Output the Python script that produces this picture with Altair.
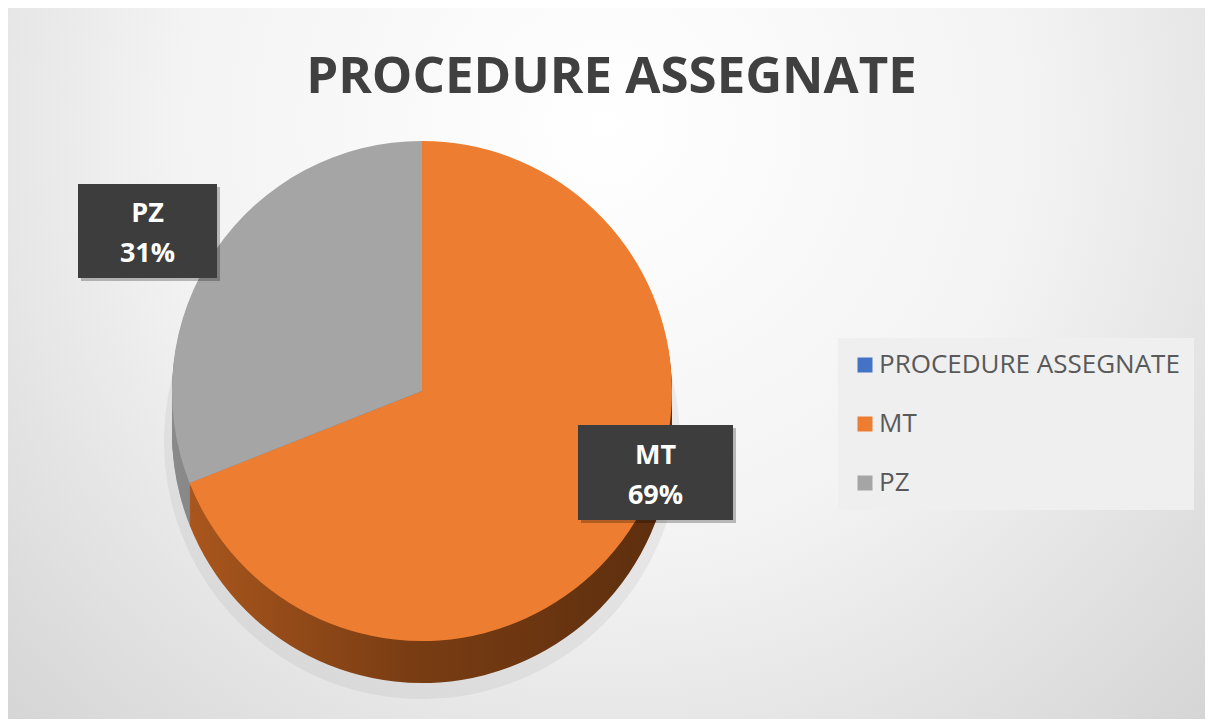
import altair as alt
import pandas as pd

# ---- data ----
TITLE = "PROCEDURE ASSEGNATE"
CATEGORIES = ["PROCEDURE ASSEGNATE", "MT", "PZ"]
VALUES = [0, 69, 31]
COLORS = ["#4472C4", "#ED7D31", "#A5A5A5"]

# ---- layout ----
W, H = 1197, 711
CX, CY, R = 414, 383, 250
DEPTH = 42
LABEL_LAYOUT = [  # cat, center x, first baseline y, box x0, x1, y0, y1
    ("PZ", 139.5, 214, 70, 209, 176, 270),
    ("MT", 647.5, 456, 570, 725, 417, 512),
]

df = pd.DataFrame({"cat": CATEGORIES, "value": VALUES, "idx": list(range(len(CATEGORIES)))})
total = sum(VALUES)

base = (
    alt.Chart(df)
    .transform_window(cum="sum(value)", sort=[alt.SortField("idx", order="ascending")])
    .transform_calculate(
        start="datum.cum - datum.value",
        pct=f"datum.value / {total}",
    )
    .transform_calculate(label="datum.cat + '\\n' + format(datum.pct, '.0%')")
)

theta_scale = alt.Scale(domain=[0, total], range=[0, 6.283185307179586])

bg = (
    alt.Chart(pd.DataFrame({"a": [0]}))
    .mark_rect(
        fill=alt.Gradient(
            gradient="radial",
            stops=[
                alt.GradientStop(color="#ffffff", offset=0),
                alt.GradientStop(color="#f3f3f3", offset=0.45),
                alt.GradientStop(color="#cdcdcd", offset=1),
            ],
            x1=0.5, y1=0.3, x2=0.5, y2=0.3, r1=0, r2=0.8,
        )
    )
    .encode(x=alt.value(0), x2=alt.value(W), y=alt.value(0), y2=alt.value(H))
)

SIDE_FILLS = {
    "MT": alt.Gradient(
        gradient="linear",
        stops=[
            alt.GradientStop(color="#a9561d", offset=0),
            alt.GradientStop(color="#7a3d13", offset=0.45),
            alt.GradientStop(color="#5c2e0e", offset=1),
        ],
        x1=0, y1=0, x2=1, y2=0,
    ),
    "PZ": alt.Gradient(
        gradient="linear",
        stops=[
            alt.GradientStop(color="#8a8a8a", offset=0),
            alt.GradientStop(color="#6e6e6e", offset=1),
        ],
        x1=0, y1=0, x2=1, y2=0,
    ),
}

layers = [bg]

# soft shadow under the pie
layers.append(
    base.mark_arc(radius=R + 8, fill="#000000", opacity=0.05).encode(
        theta=alt.Theta("start:Q", scale=theta_scale),
        theta2="cum:Q",
        x=alt.value(CX),
        y=alt.value(CY + DEPTH + 8),
    )
)

for d in range(DEPTH, 0, -2):
    for cat, fill in SIDE_FILLS.items():
        layers.append(
            base.transform_filter(alt.datum.cat == cat)
            .mark_arc(radius=R, fill=fill)
            .encode(
                theta=alt.Theta("start:Q", scale=theta_scale),
                theta2="cum:Q",
                x=alt.value(CX),
                y=alt.value(CY + d),
            )
        )

top = base.mark_arc(radius=R).encode(
    theta=alt.Theta("start:Q", scale=theta_scale),
    theta2="cum:Q",
    x=alt.value(CX),
    y=alt.value(CY),
    color=alt.Color(
        "cat:N",
        scale=alt.Scale(domain=CATEGORIES, range=COLORS),
        legend=alt.Legend(
            title=None,
            orient="none",
            legendX=830,
            legendY=330,
            symbolType="square",
            symbolSize=225,
            symbolStrokeWidth=0,
            labelFontSize=26,
            labelFont="Open Sans",
            labelColor="#595959",
            rowPadding=33,
            padding=14,
            fillColor="#efefef",
            labelLimit=500,
            labelOffset=1,
        ),
    ),
)
layers.append(top)

for cat, tx, ty, x0, x1, y0, y1 in LABEL_LAYOUT:
    sub = base.transform_filter(alt.datum.cat == cat)
    layers.append(
        sub.mark_rect(fill="#000000", opacity=0.25).encode(
            x=alt.value(x0 + 3), x2=alt.value(x1 + 3), y=alt.value(y0 + 3), y2=alt.value(y1 + 3)
        )
    )
    layers.append(
        sub.mark_rect(fill="#3d3d3d").encode(
            x=alt.value(x0), x2=alt.value(x1), y=alt.value(y0), y2=alt.value(y1)
        )
    )
    layers.append(
        sub.mark_text(
            lineBreak="\n",
            align="center",
            baseline="alphabetic",
            font="Open Sans",
            fontWeight="bold",
            fontSize=27,
            lineHeight=40,
            color="#ffffff",
        ).encode(text="label:N", x=alt.value(tx), y=alt.value(ty))
    )

title = (
    alt.Chart(pd.DataFrame({"t": [TITLE]}))
    .mark_text(
        align="center",
        baseline="alphabetic",
        font="Open Sans",
        fontWeight="bold",
        fontSize=51,
        color="#404040",
    )
    .encode(text="t:N", x=alt.value(603.5), y=alt.value(85))
)
layers.append(title)

chart = (
    alt.layer(*layers)
    .properties(width=W, height=H, padding=0, autosize=alt.AutoSizeParams(type="none"))
    .configure_view(stroke=None)
)

chart.save("out.html", embed_options={"renderer": "svg", "actions": False})
